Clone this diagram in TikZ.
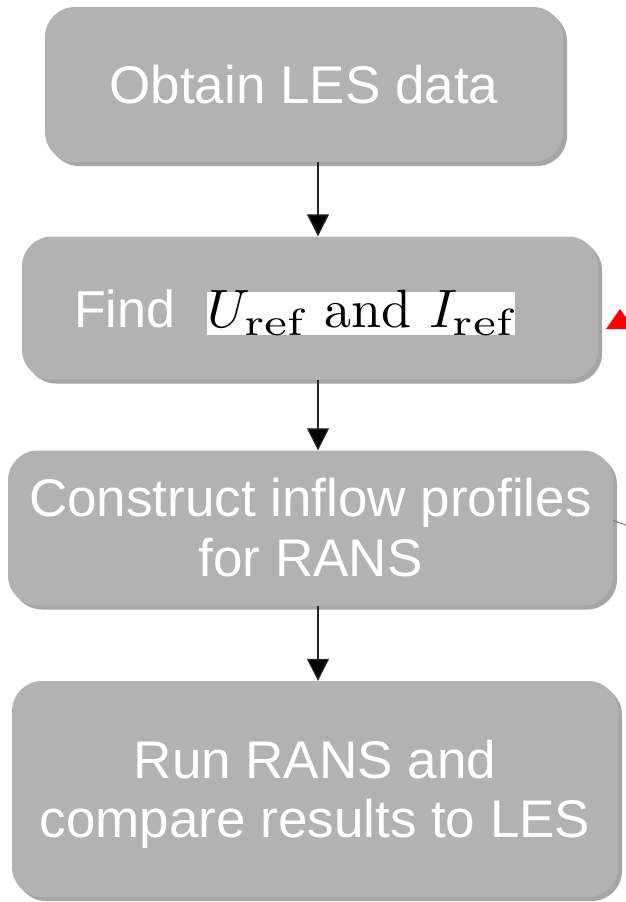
\documentclass[tikz,border=0pt]{standalone}
\usepackage{fontspec}
\newfontfamily\arialfont{Liberation Sans}
\usetikzlibrary{arrows.meta,shadows}
\definecolor{boxgray}{RGB}{178,178,178}
\definecolor{linkblue}{RGB}{70,110,170}
\newcommand{\refsub}{\scalebox{1.2}[1]{$\scriptstyle\mathrm{ref}$}}
\tikzset{
  stepbox/.style={draw=none, fill=boxgray, rounded corners=30pt, inner sep=0pt,
    text=white, align=center, font=\arialfont\fontsize{53}{60}\selectfont,
    drop shadow={shadow xshift=4pt, shadow yshift=-4pt, fill=black, opacity=0.35}},
  arr/.style={draw=black!85, line width=1.3pt, -{Triangle[length=22pt,width=22pt,fill=black]}},
}
\begin{document}
\begin{tikzpicture}[x=1pt,y=-1pt]
\useasboundingbox (0,0) rectangle (626,902);
% boxes
\node[stepbox, minimum width=518pt, minimum height=155pt] (b1) at (304,84.5) {Obtain LES data};
\node[stepbox, minimum width=576pt, minimum height=143pt] (b2) at (310,308) {};
\node[stepbox, minimum width=605pt, minimum height=155pt] (b3) at (310.5,528) {Construct inflow profiles\\for RANS};
\node[stepbox, minimum width=606pt, minimum height=216pt, text depth=0pt, font=\arialfont\fontsize{53}{59}\selectfont] (b4) at (315,789) {Run RANS and\\compare results to LES};
% content of box 2
\node[anchor=base west, inner sep=0pt, text=white, font=\arialfont\fontsize{52}{60}\selectfont] (find) at (74,327) {Find};
\node[anchor=base west, fill=white, inner sep=0pt, text height=35pt, text depth=8pt] (eq) at (207,327) {\scalebox{5.4}{$U_{\refsub}\ \mathrm{and}\ I_{\refsub}$}};
% arrows
\coordinate (ax) at (318,0);
\draw[arr] (b1.south -| ax) -- (b2.north -| ax);
\draw[arr] (b2.south -| ax) -- (b3.north -| ax);
\draw[arr] (b3.south -| ax) -- (b4.north -| ax);
% partial elements at the right edge
\coordinate (blueend) at (626,525);
\draw[linkblue, line width=0.8pt] ([yshift=7.5pt]b3.east) -- (blueend);
\begin{scope}
\clip (0,0) rectangle (626,902);
\coordinate (tri) at (620,309);
\fill[red] (tri) -- ++(14,20) -- ++(-28,0) -- cycle;
\end{scope}
\end{tikzpicture}
\end{document}
